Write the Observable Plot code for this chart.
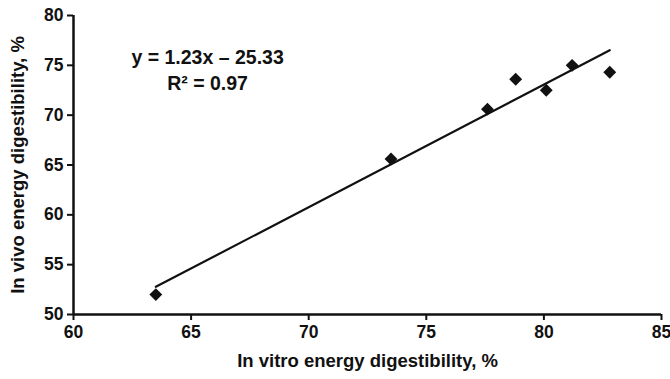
<!DOCTYPE html>
<html>
<head>
<meta charset="utf-8">
<script src="https://cdn.jsdelivr.net/npm/d3@7"></script>
<script src="https://cdn.jsdelivr.net/npm/@observablehq/plot@0.6"></script>
<style>
  html, body { margin: 0; padding: 0; background: #fff; }
  #chart svg text { font-weight: bold; }
</style>
</head>
<body>
<div id="chart"></div>
<script>
const inVitro = [63.5, 73.5, 77.6, 78.8, 80.1, 81.2, 82.8];
const inVivo  = [52.0, 65.6, 70.6, 73.6, 72.5, 75.0, 74.3];
const slope = 1.23, intercept = -25.33;
const xTicks = [60, 65, 70, 75, 80, 85];
const yTicks = [50, 55, 60, 65, 70, 75, 80];
const xLabel = "In vitro energy digestibility, %";
const yLabel = "In vivo energy digestibility, %";
const eqText = ["y = 1.23x \u2013 25.33", "R\u00b2 = 0.97"];
const eqX = [65.7, 65.7];
const eqY = [75.8, 73.2];

const points = inVitro.map((x, i) => ({x, y: inVivo[i]}));
const xMin = d3.min(inVitro), xMax = d3.max(inVitro);
const fit = [xMin, xMax].map(x => ({x, y: slope * x + intercept}));

const chart = Plot.plot({
  width: 670,
  height: 379,
  marginLeft: 73,
  marginRight: 9,
  marginTop: 15,
  marginBottom: 65,
  style: {fontFamily: "'Liberation Sans', Arial, sans-serif", fontSize: "17px", fontWeight: "bold", color: "#111", background: "#fff"},
  x: {domain: [60, 85]},
  y: {domain: [50, 80]},
  marks: [
    Plot.axisX({ticks: xTicks, tickSize: 6, tickPadding: 5, strokeWidth: 2, label: null, fontSize: 17.5}),
    Plot.axisY({ticks: yTicks, tickSize: 6, tickPadding: 4, strokeWidth: 2, label: null, fontSize: 17.5}),
    Plot.ruleY([50], {stroke: "#111", strokeWidth: 2.5}),
    Plot.ruleX([60], {stroke: "#111", strokeWidth: 2.5}),
    Plot.line(fit, {x: "x", y: "y", stroke: "#111", strokeWidth: 2.2}),
    Plot.dot(points, {x: "x", y: "y", symbol: "diamond2", r: 5.8, fill: "#111", stroke: "none"}),
    Plot.text(eqText, {x: (d, i) => eqX[i], y: (d, i) => eqY[i], text: d => d, fontSize: 19.5, fontWeight: "bold", fill: "#111"}),
    Plot.text([xLabel], {frameAnchor: "bottom", dy: 52, text: d => d, fontSize: 18.5, fontWeight: "bold", fill: "#111"}),
    Plot.text([yLabel], {frameAnchor: "left", dx: -55, rotate: -90, textAnchor: "middle", text: d => d, fontSize: 18.5, fontWeight: "bold", fill: "#111"})
  ]
});
document.getElementById("chart").appendChild(chart);
</script>
</body>
</html>
